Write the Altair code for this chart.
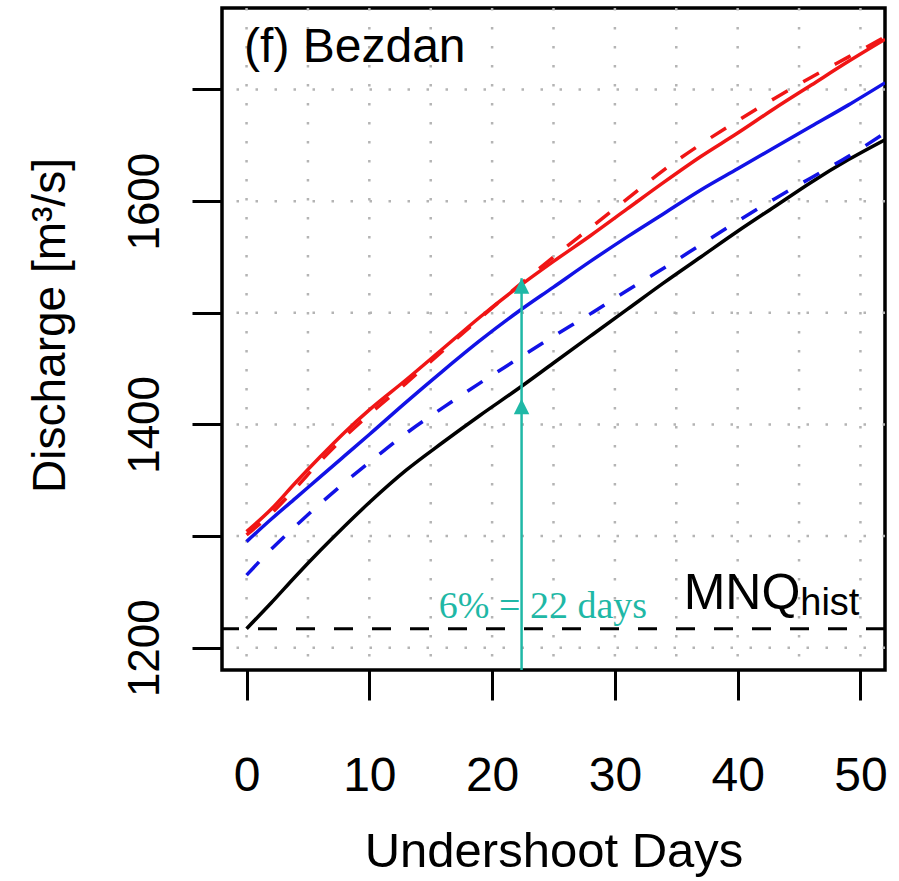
import altair as alt
import pandas as pd

# ---- data ----
days = [0, 2, 4, 6, 8, 10, 13, 16, 19, 22, 25, 28, 31, 34, 37, 40, 43, 46, 49, 52]
black_solid = [1217, 1240, 1264, 1287, 1309, 1330, 1359, 1384, 1408, 1431, 1455, 1479,
               1503, 1527, 1550, 1573, 1595, 1617, 1637, 1655]
blue_dashed = [1265, 1288, 1309, 1329, 1348, 1366, 1392, 1415, 1437, 1458, 1479, 1499,
               1520, 1540, 1561, 1582, 1602, 1621, 1640, 1661]
blue_solid = [1295, 1315, 1334, 1353, 1372, 1391, 1420, 1448, 1475, 1500, 1523, 1546,
              1568, 1589, 1610, 1629, 1648, 1667, 1686, 1706]
red_dashed = [1301, 1320, 1343, 1367, 1389, 1409, 1437, 1466, 1495, 1523, 1550, 1576,
              1602, 1628, 1651, 1672, 1692, 1711, 1729, 1747]
red_solid = [1304, 1324, 1348, 1371, 1393, 1413, 1440, 1468, 1496, 1522, 1546, 1569,
             1593, 1617, 1640, 1661, 1683, 1704, 1725, 1745]

mnq_hist = 1217
x_ticks = [0, 10, 20, 30, 40, 50]
y_ticks = [1200, 1300, 1400, 1500, 1600, 1700]
grid_x = [0, 5, 10, 15, 20, 25, 30, 35, 40, 45, 50]
grid_y = [1200, 1300, 1400, 1500, 1600, 1700]

arrow_day = 22.4
arrow_top = 1531
arrow_mid = 1423
arrow_bottom = 1180

X_DOM = [-2, 52]
Y_DOM = [1180, 1773]
FONT = "Liberation Sans"
TEAL = "#1fb8a6"

xs = alt.Scale(domain=X_DOM, nice=False, zero=False)
ys = alt.Scale(domain=Y_DOM, nice=False, zero=False)

x_axis = alt.Axis(
    values=x_ticks, title="Undershoot Days", grid=False, domain=False,
    ticks=True, tickSize=30, tickWidth=3, tickColor="black",
    labelFont=FONT, labelFontSize=48, labelColor="black", labelPadding=90,
    labelBaseline="alphabetic", labelFlush=False, labelOverlap=False,
    titleFont=FONT, titleFontSize=49, titleFontWeight="normal", titleColor="black",
    titleBaseline="alphabetic", titleY=196,
)
y_axis = alt.Axis(
    values=y_ticks, title="Discharge [m³/s]", grid=False, domain=False,
    ticks=True, tickSize=30, tickWidth=3, tickColor="black",
    labelExpr="datum.value % 200 == 0 ? format(datum.value, 'd') : ''",
    labelFont=FONT, labelFontSize=44, labelColor="black", labelPadding=34,
    labelAngle=270, labelAlign="center", labelBaseline="alphabetic",
    labelOverlap=False, labelFlush=False,
    titleFont=FONT, titleFontSize=46, titleFontWeight="normal", titleColor="black",
    titleAngle=270, titleAlign="center", titleBaseline="alphabetic",
    titleX=-158, titleY=317,
)


def X(field):
    return alt.X(field, scale=xs, axis=x_axis)


def Y(field):
    return alt.Y(field, scale=ys, axis=y_axis)


# invisible base layer carrying both axes
base = alt.Chart(pd.DataFrame({"day": days, "q": red_solid})).mark_point(
    opacity=0, size=1
).encode(x=X("day:Q"), y=Y("q:Q"))

# grid
gx = alt.Chart(pd.DataFrame({"day": grid_x})).mark_rule(
    color="#b4b4b4", strokeWidth=2.5, strokeDash=[2.5, 16.5]
).encode(x=X("day:Q"))
gy = alt.Chart(pd.DataFrame({"q": grid_y})).mark_rule(
    color="#b4b4b4", strokeWidth=2.5, strokeDash=[2.5, 16.5]
).encode(y=Y("q:Q"))

# MNQ line
mnq = alt.Chart(pd.DataFrame({"q": [mnq_hist]})).mark_rule(
    color="black", strokeWidth=3, strokeDash=[19, 19]
).encode(y=Y("q:Q"))

series = [
    ("black_solid", black_solid, "black", []),
    ("blue_dashed", blue_dashed, "#1212e6", [18, 18]),
    ("blue_solid", blue_solid, "#1212e6", []),
    ("red_dashed", red_dashed, "#f01515", [18, 18]),
    ("red_solid", red_solid, "#f01515", []),
]

layers = [base, gx, gy, mnq]
for name, vals, col, dash in series:
    df = pd.DataFrame({"day": days, "q": vals})
    kw = dict(color=col, strokeWidth=3.5, clip=True, interpolate="monotone")
    if dash:
        kw["strokeDash"] = dash
    layers.append(alt.Chart(df).mark_line(**kw).encode(x=X("day:Q"), y=Y("q:Q")))

# teal annotation
arrow_line = alt.Chart(pd.DataFrame({"day": [arrow_day], "q": [arrow_bottom], "q2": [arrow_top]})).mark_rule(
    color=TEAL, strokeWidth=2.5
).encode(x=X("day:Q"), y=Y("q:Q"), y2="q2:Q")
heads = alt.Chart(pd.DataFrame({"day": [arrow_day, arrow_day], "q": [arrow_top, arrow_mid]})).mark_point(
    shape="M0,0 L-1,2 L1,2 Z", size=240, filled=True, color=TEAL, opacity=1, strokeWidth=0
).encode(x=X("day:Q"), y=Y("q:Q"))


def label(day, q, text, font, size, color):
    return alt.Chart(pd.DataFrame({"day": [day], "q": [q], "t": [text]})).mark_text(
        align="left", baseline="alphabetic", font=font, fontSize=size, color=color
    ).encode(x=X("day:Q"), y=Y("q:Q"), text="t:N")


teal_text = label(15.66, 1227, "6% = 22 days", "Liberation Serif", 38, TEAL)
mnq_text = label(35.6, 1235, "MNQ", FONT, 50, "black")
hist_text = label(45.1, 1229, "hist", FONT, 38, "black")
panel_text = label(-0.2, 1725, "(f) Bezdan", FONT, 48, "black")

layers += [arrow_line, heads, teal_text, mnq_text, hist_text, panel_text]

chart = alt.layer(*layers).properties(
    width=663, height=662,
    autosize=alt.AutoSizeParams(type="none"),
    padding={"left": 222, "top": 8, "right": 14, "bottom": 211},
    background="white",
).configure_view(stroke="black", strokeWidth=3.5)

chart.save("out.html", embed_options={"renderer": "svg", "actions": False})
